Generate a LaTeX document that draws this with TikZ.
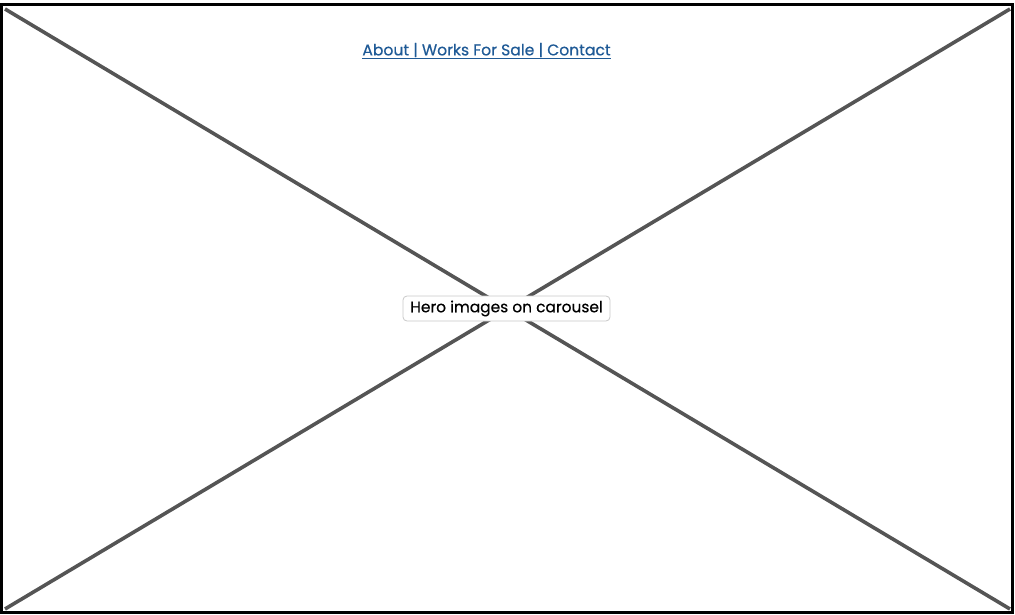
\documentclass[tikz,border=0pt]{standalone}
\usepackage{fontspec}
\setmainfont{Poppins}[BoldFont=Poppins,BoldFeatures={FakeBold=0.5}]
\definecolor{linkblue}{HTML}{1F5A96}
\definecolor{crossgray}{HTML}{555555}
\definecolor{boxgray}{HTML}{C8C8C8}
\begin{document}
\begin{tikzpicture}[x=1pt,y=-1pt,
  frame/.style={draw=black,line width=3pt},
  cross/.style={draw=crossgray,line width=3.6pt},
  navlink/.style={text=linkblue,font=\fontsize{15.6}{18}\selectfont\bfseries,inner sep=0pt},
  caption/.style={draw=boxgray,fill=white,rounded corners=4pt,line width=0.8pt,
    font=\fontsize{15.4}{18}\selectfont\bfseries,inner xsep=5pt,minimum height=25pt,minimum width=207pt}]
  \useasboundingbox (0,0) rectangle (1015,615);
  \draw[frame] (1.5,4.5) rectangle (1012.5,612.5);
  \coordinate (tl) at (5,9);
  \coordinate (br) at (1010,609);
  \coordinate (bl) at (5,609);
  \coordinate (tr) at (1010,9);
  \draw[cross] (tl) -- (br);
  \draw[cross] (bl) -- (tr);
  \node[navlink] (nav) at (486.5,51) {\underline{About | Works For Sale | Contact}};
  \node[caption] (hero) at (506.5,308.5) {Hero images on carousel};
\end{tikzpicture}
\end{document}
